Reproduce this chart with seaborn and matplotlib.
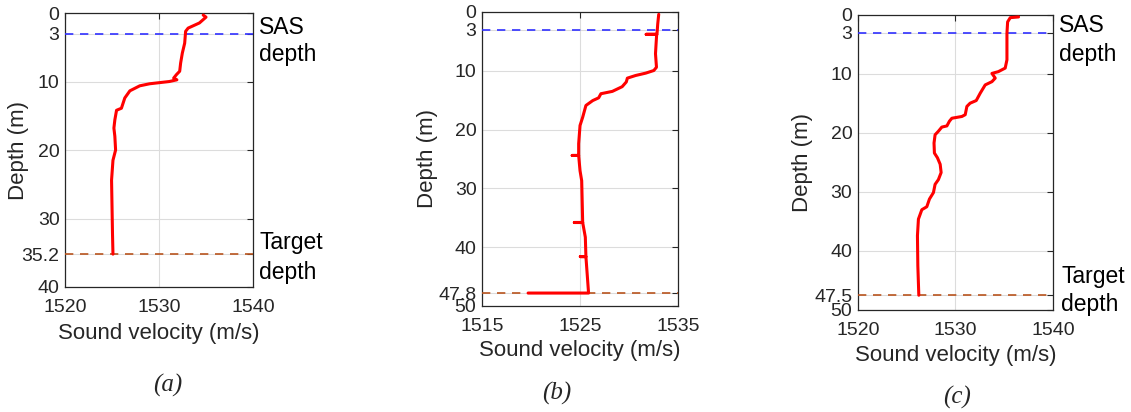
import matplotlib
matplotlib.use("Agg")
import matplotlib.pyplot as plt
import seaborn as sns
import pandas as pd

sns.set_style("white")
plt.rcParams['font.family'] = ['Liberation Sans', 'DejaVu Sans']

# ---profile (a)---
vel_a = [1534.7, 1535.0, 1534.3, 1533.1, 1532.83, 1532.73, 1532.48, 1532.3, 1532.2,
         1531.85, 1531.56, 1531.9, 1531.1, 1529.0, 1527.95, 1526.9, 1526.36, 1526.0,
         1525.48, 1525.3, 1525.2, 1525.3, 1525.38, 1525.1, 1524.95, 1525.0, 1525.05, 1525.1]
dep_a = [0.3, 0.6, 1.45, 2.2, 2.67, 4.4, 5.85, 7.3, 8.5,
         9.0, 9.5, 9.75, 10.0, 10.33, 10.63, 11.36, 12.4, 13.9,
         14.2, 15.6, 16.8, 18.0, 20.0, 21.5, 24.4, 28.3, 32.2, 35.2]

# ---profile (b)---
vel_b = [1533.03, 1532.93, 1532.85, 1531.75, 1532.82, 1532.76, 1532.7, 1532.8, 1532.53,
         1531.7, 1530.67, 1529.83, 1529.72, 1529.3, 1528.3, 1527.13, 1526.9, 1526.3,
         1525.6, 1525.27, 1525.0, 1524.86, 1524.86, 1524.2, 1524.86, 1525.0, 1525.17,
         1525.27, 1524.42, 1525.27, 1525.54, 1525.6, 1525.03, 1525.6, 1525.87, 1519.7]
dep_b = [0.4, 2.0, 3.8, 3.8, 3.8, 5.4, 7.1, 9.4, 9.95,
         10.4, 10.8, 11.25, 11.9, 12.7, 13.5, 13.9, 14.6, 15.06,
         15.9, 17.9, 19.3, 22.4, 24.4, 24.4, 24.4, 27.0, 28.7,
         35.8, 35.8, 35.8, 38.3, 41.6, 41.6, 41.6, 47.8, 47.8]

# ---profile (c)---
vel_c = [1536.47, 1535.62, 1535.35, 1535.28, 1535.28, 1535.28, 1535.1, 1534.4, 1533.74,
         1534.08, 1533.74, 1533.05, 1532.54, 1532.13, 1531.5, 1531.17, 1531.0, 1530.66,
         1529.63, 1529.38, 1529.12, 1528.6, 1528.25, 1527.91, 1527.8, 1527.84, 1528.15,
         1528.43, 1528.53, 1528.25, 1527.91, 1527.74, 1527.33, 1527.06, 1526.55, 1526.2,
         1526.1, 1526.14, 1526.24]
dep_c = [0.33, 0.45, 1.17, 3.1, 5.4, 7.6, 9.0, 9.6, 9.9,
         10.7, 11.3, 11.85, 13.25, 14.5, 14.95, 15.5, 16.9, 17.2,
         17.5, 18.0, 18.8, 19.0, 19.7, 20.3, 21.7, 23.4, 24.2,
         25.3, 26.7, 27.9, 28.7, 30.1, 31.2, 32.5, 33.0, 34.6,
         37.4, 42.5, 47.5]

sas_depth = 3
target_a, target_b, target_c = 35.2, 47.8, 47.5

W, H = 1131, 412

panels = [
    dict(vel=vel_a, dep=dep_a, target=target_a, xlim=(1520, 1540), xticks=[1520, 1530, 1540],
         ylim=40, yticks=[0, 3, 10, 20, 30, 35.2, 40], ylabels=['0', '3', '10', '20', '30', '35.2', '40'],
         rect=[0.0575, 0.3034, 0.1662, 0.665], cap='(a)', cap_xy=(168, 385),
         ylab_x=-0.25, xlab_y=-0.168,
         notes=[('SAS', 259, 27), ('depth', 259, 55), ('Target', 259, 243), ('depth', 259, 272)]),
    dict(vel=vel_b, dep=dep_b, target=target_b, xlim=(1515, 1535), xticks=[1515, 1525, 1535],
         ylim=50, yticks=[0, 3, 10, 20, 30, 40, 47.8, 50], ylabels=['0', '3', '10', '20', '30', '40', '47.8', '50'],
         rect=[0.4262, 0.2573, 0.1733, 0.7136], cap='(b)', cap_xy=(557, 393),
         ylab_x=-0.276, xlab_y=-0.150, notes=[]),
    dict(vel=vel_c, dep=dep_c, target=target_c, xlim=(1520, 1540), xticks=[1520, 1530, 1540],
         ylim=50, yticks=[0, 3, 10, 20, 30, 40, 47.5, 50], ylabels=['0', '3', '10', '20', '30', '40', '47.5', '50'],
         rect=[0.7586, 0.2476, 0.1724, 0.716], cap='(c)', cap_xy=(957, 397),
         ylab_x=-0.282, xlab_y=-0.153,
         notes=[('SAS', 1059, 26), ('depth', 1059, 54), ('Target', 1061, 277), ('depth', 1061, 305)]),
]

fig = plt.figure(figsize=(W / 100, H / 100), dpi=100)
ink = '#262626'

for p in panels:
    ax = fig.add_axes(p['rect'])
    df = pd.DataFrame({'vel': p['vel'], 'dep': p['dep']})
    ax.axhline(sas_depth, color='#3030ff', ls=(0, (5, 4)), lw=1.2, zorder=3)
    ax.axhline(p['target'], color='#b8541e', ls=(0, (5, 4)), lw=1.2, zorder=3)
    sns.lineplot(data=df, x='vel', y='dep', sort=False, estimator=None, color='red', lw=2.2, ax=ax, zorder=4)
    ax.set_xlim(*p['xlim'])
    ax.set_ylim(p['ylim'], 0)
    ax.set_xticks(p['xticks'])
    ax.set_yticks(p['yticks'])
    ax.set_yticklabels(p['ylabels'])
    ax.grid(True, color='#dcdcdc', lw=0.8)
    ax.set_axisbelow(True)
    ax.tick_params(direction='in', length=4, width=0.8, colors=ink, labelsize=14,
                   top=True, right=True)
    ax.tick_params(axis='x', pad=9)
    ax.tick_params(axis='y', pad=4)
    for s in ax.spines.values():
        s.set_color(ink)
        s.set_linewidth(0.9)
    ax.set_xlabel('Sound velocity (m/s)', fontsize=16, color=ink, va='center')
    ax.set_ylabel('Depth (m)', fontsize=16, color=ink, va='center')
    ax.xaxis.set_label_coords(0.5, p['xlab_y'])
    ax.yaxis.set_label_coords(p['ylab_x'], 0.5)
    for txt, x, y in p['notes']:
        fig.text(x / W, 1 - y / H, txt, fontsize=16.5, color='black', ha='left', va='center')
    cx, cy = p['cap_xy']
    fig.text(cx / W, 1 - cy / H, p['cap'], family='Liberation Serif', style='italic',
             fontsize=18, ha='center', va='center')

fig.savefig('out.png', dpi=100)
